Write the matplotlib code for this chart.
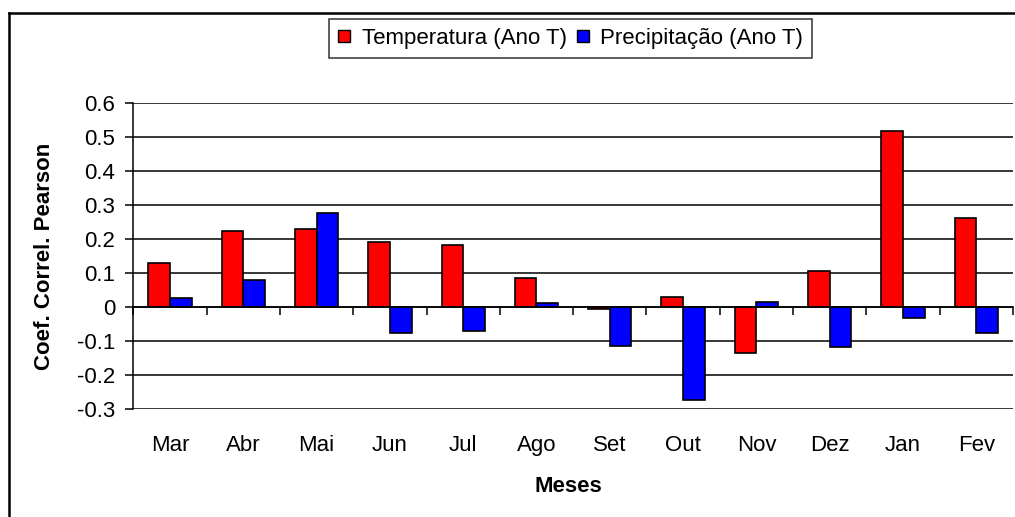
import matplotlib
matplotlib.use("Agg")
import matplotlib.pyplot as plt
from matplotlib.lines import Line2D
from matplotlib.patches import Patch
import numpy as np

plt.rcParams['font.family'] = ['Liberation Sans', 'DejaVu Sans']

months = ["Mar", "Abr", "Mai", "Jun", "Jul", "Ago", "Set", "Out", "Nov", "Dez", "Jan", "Fev"]
temperatura = [0.129, 0.225, 0.231, 0.193, 0.183, 0.085, -0.005, 0.031, -0.133, 0.108, 0.519, 0.264]
precipitacao = [0.026, 0.080, 0.278, -0.075, -0.069, 0.012, -0.113, -0.273, 0.017, -0.118, -0.032, -0.075]
yticks = [-0.3, -0.2, -0.1, 0, 0.1, 0.2, 0.3, 0.4, 0.5, 0.6]
ytick_labels = ["-0.3", "-0.2", "-0.1", "0", "0.1", "0.2", "0.3", "0.4", "0.5", "0.6"]

W, H = 1015, 517
FS = 16
fig = plt.figure(figsize=(W / 100, H / 100), dpi=100)
fig.patch.set_facecolor("white")

# outer chart-area border (top and left edges visible)
fig.add_artist(Line2D([9 / W, 1.0], [1 - 13 / H, 1 - 13 / H], color="black", lw=1.8,
                      transform=fig.transFigure))
fig.add_artist(Line2D([9 / W, 9 / W], [1 - 13 / H, 0.0], color="black", lw=1.8,
                      transform=fig.transFigure))

left, right = 133.3 / W, 1013 / W
top, bottom = 1 - 103.3 / H, 1 - 409.3 / H
ax = fig.add_axes([left, bottom, right - left, top - bottom])

x = np.arange(len(months))
bw = 0.295
ax.bar(x - bw / 2, temperatura, width=bw, color="#FF0000", edgecolor="black", linewidth=1.2, zorder=3)
ax.bar(x + bw / 2, precipitacao, width=bw, color="#0000FF", edgecolor="black", linewidth=1.2, zorder=3)

ax.set_xlim(-0.5, len(months) - 0.5)
ax.set_ylim(-0.3, 0.6)

# horizontal gridlines
for v in yticks:
    ax.axhline(v, color="black", lw=1.1, zorder=1)

for s in ["top", "right"]:
    ax.spines[s].set_visible(False)
ax.spines["left"].set_linewidth(1.1)
ax.spines["bottom"].set_position(("data", 0))
ax.spines["bottom"].set_linewidth(1.1)
ax.spines["bottom"].set_zorder(4)

ax.set_yticks(yticks)
ax.set_yticklabels(ytick_labels, fontsize=FS)
ax.tick_params(axis="y", direction="out", length=6, width=1.1, pad=7)

ax.set_xticks(np.arange(-0.5, len(months), 1.0))
ax.set_xticklabels([])
ax.tick_params(axis="x", direction="out", length=6, width=1.1)

# category labels placed below the plot area
for xi, m in zip(x, months):
    ax.text(xi, -36 / (409.3 - 103.3), m, transform=ax.get_xaxis_transform(),
            ha="center", va="center", fontsize=FS)

fig.text(568 / W, 1 - 487 / H, "Meses", ha="center", va="center", fontsize=FS, fontweight="bold")
fig.text(45 / W, 1 - 256 / H, "Coef. Correl. Pearson", ha="center", va="center",
         rotation=90, fontsize=FS, fontweight="bold")

handles = [Patch(facecolor="#FF0000", edgecolor="black", linewidth=1.0),
           Patch(facecolor="#0000FF", edgecolor="black", linewidth=1.0)]
leg = fig.legend(handles, ["Temperatura (Ano T)", "Precipitação (Ano T)"],
                 loc="center", bbox_to_anchor=(570.5 / W, 1 - 38.5 / H), ncol=2,
                 fontsize=FS, frameon=True, fancybox=False, edgecolor="black",
                 handlelength=0.55, handleheight=0.4, handletextpad=0.5,
                 columnspacing=0.45, borderpad=0.4, borderaxespad=0)
leg.get_frame().set_linewidth(1.1)

fig.savefig("out.png", dpi=100, facecolor="white")
